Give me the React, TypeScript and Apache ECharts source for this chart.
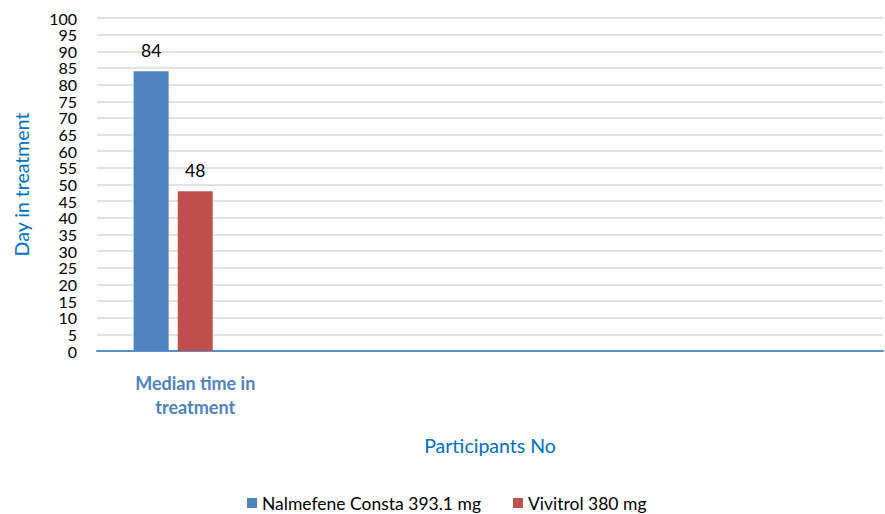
import React, { useEffect, useRef } from "react";
import * as echarts from "echarts";

const categories = ["Median time in\ntreatment", "", "", ""];
const seriesNames = ["Nalmefene Consta 393.1 mg", "Vivitrol 380 mg"];
const nalmefene = [84, null, null, null];
const vivitrol = [48, null, null, null];
const spacer = [null, null, null, null];
const colors = ["#4F81BD", "#C0504D"];

const FONT = "Lato, 'Open Sans', sans-serif";

export default function App() {
  const ref = useRef<HTMLDivElement>(null);
  useEffect(() => {
    if (!ref.current) return;
    const chart = echarts.init(ref.current, undefined, { renderer: "svg" });
    const label = {
      show: true,
      position: "top",
      distance: 12,
      fontSize: 17.5,
      color: "#000",
      fontFamily: FONT,
    };
    chart.setOption({
      animation: false,
      backgroundColor: "#fff",
      textStyle: { fontFamily: FONT },
      grid: { left: 97, right: 2, top: 18, bottom: 163, containLabel: false },
      legend: {
        data: seriesNames,
        top: 494,
        left: 247,
        padding: 0,
        itemWidth: 10,
        itemHeight: 10,
        itemGap: 32,
        icon: "rect",
        textStyle: {
          fontSize: 17.5,
          lineHeight: 18,
          color: "#000",
          fontFamily: FONT,
        },
      },
      xAxis: {
        type: "category",
        data: categories,
        name: "Participants No",
        nameLocation: "middle",
        nameGap: 84,
        nameTextStyle: { fontSize: 19.5, color: "#0070C0", fontFamily: FONT },
        axisLine: { lineStyle: { color: "#5B8FC9", width: 2 } },
        axisTick: { show: false },
        axisLabel: {
          margin: 20,
          fontSize: 18,
          fontWeight: "bold",
          color: "#4F81BD",
          lineHeight: 24,
          interval: 0,
          fontFamily: FONT,
        },
      },
      yAxis: {
        type: "value",
        min: 0,
        max: 100,
        interval: 5,
        name: "Day in treatment",
        nameLocation: "middle",
        nameGap: 66,
        nameTextStyle: { fontSize: 19.5, color: "#0070C0", fontFamily: FONT },
        axisLine: { show: false },
        axisTick: { show: false },
        axisLabel: {
          fontSize: 16,
          color: "#000",
          margin: 20,
          showMinLabel: true,
          showMaxLabel: true,
          fontFamily: FONT,
        },
        splitLine: { lineStyle: { color: "#D9D9D9", width: 1.5 } },
      },
      series: [
        {
          name: seriesNames[0],
          type: "bar",
          data: nalmefene,
          barWidth: 35,
          barGap: "26%",
          itemStyle: { color: colors[0] },
          label,
        },
        {
          name: seriesNames[1],
          type: "bar",
          data: vivitrol,
          barWidth: 35,
          barGap: "26%",
          itemStyle: { color: colors[1] },
          label,
        },
        {
          name: "spacer",
          type: "bar",
          data: spacer,
          barWidth: 35,
          barGap: "26%",
          itemStyle: { color: "transparent" },
        },
      ],
    });
    return () => chart.dispose();
  }, []);
  return (
    <div
      ref={ref}
      style={{ position: "fixed", left: 0, top: 0, width: 885, height: 514 }}
    />
  );
}
